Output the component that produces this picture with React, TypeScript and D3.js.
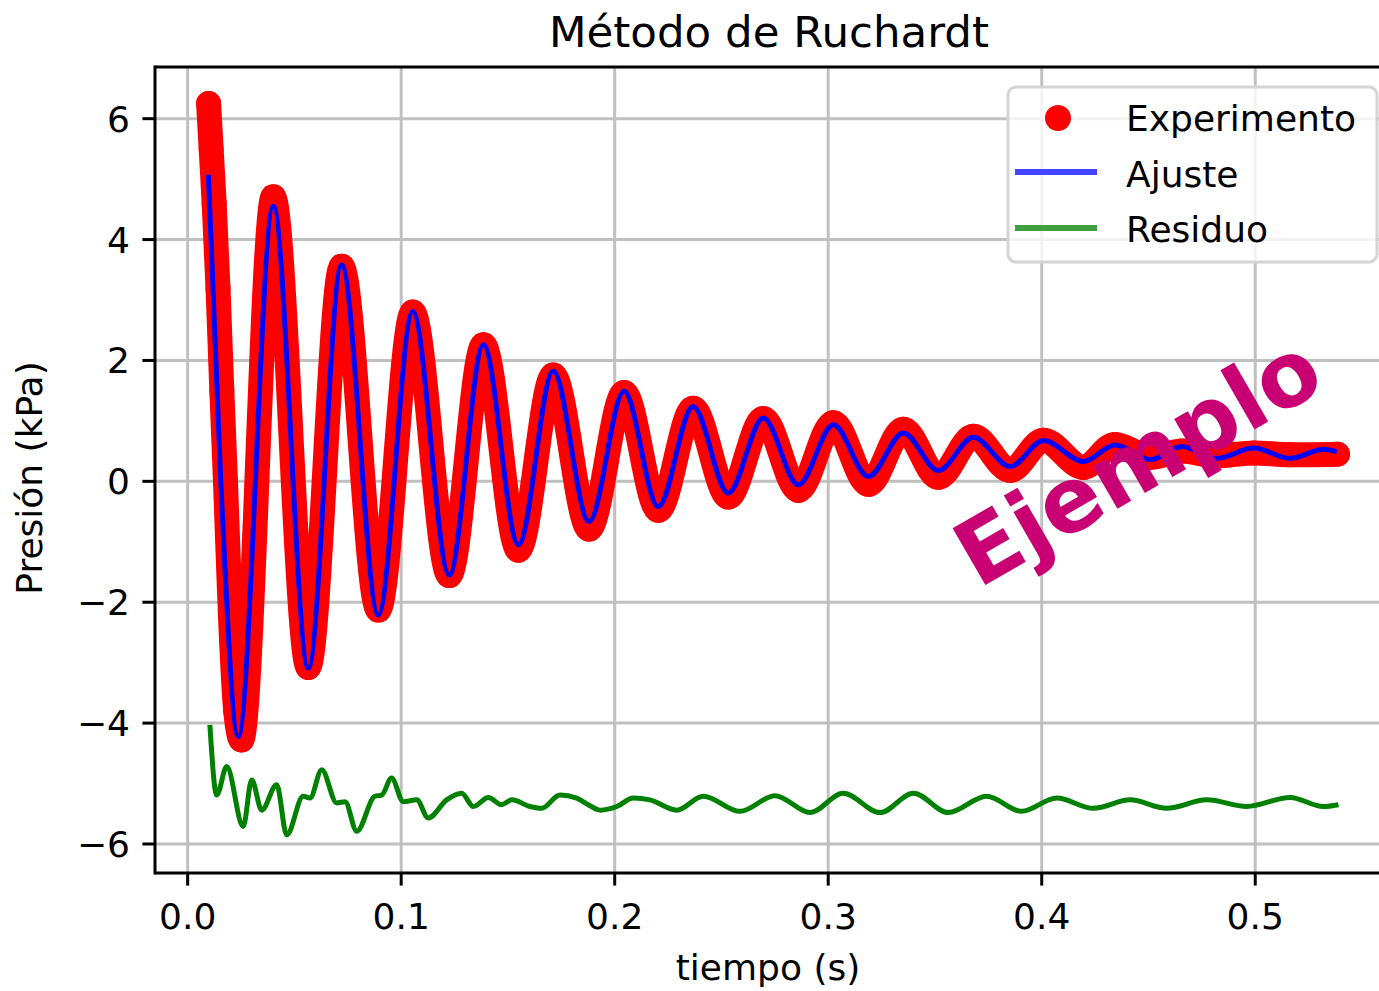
import * as d3 from 'd3';

// tiempo (s) / presión (kPa)
const expT = [0.0098, 0.011, 0.0124, 0.0142, 0.016, 0.0177, 0.02, 0.0225, 0.0252, 0.0401, 0.0565, 0.0721, 0.0893, 0.1054, 0.1225, 0.1385, 0.1549, 0.1712, 0.188, 0.2044, 0.2204, 0.2367, 0.2532, 0.2696, 0.286, 0.3024, 0.3188, 0.3352, 0.3516, 0.368, 0.3852, 0.4008, 0.4195, 0.4343, 0.451, 0.4656, 0.482, 0.4992, 0.5163, 0.5385];
const expP = [6.25, 5.5, 4.6, 3.2, 1.5, 0.0, -2.2, -3.8, -4.28, 4.71, -3.08, 3.56, -2.13, 2.8, -1.56, 2.26, -1.14, 1.76, -0.79, 1.47, -0.48, 1.21, -0.26, 1.04, -0.15, 0.97, -0.05, 0.86, 0.066, 0.745, 0.18, 0.68, 0.23, 0.61, 0.4, 0.5, 0.42, 0.47, 0.44, 0.45];

const fitT = [0.0097, 0.0155, 0.0237, 0.0401, 0.0565, 0.0721, 0.0893, 0.1054, 0.1225, 0.1385, 0.1549, 0.1712, 0.188, 0.2044, 0.2204, 0.2367, 0.2532, 0.2696, 0.286, 0.3024, 0.3188, 0.3352, 0.3516, 0.368, 0.3852, 0.4008, 0.4195, 0.4343, 0.451, 0.4656, 0.482, 0.4992, 0.5163, 0.532, 0.5382];
const fitP = [5.07, 0.0, -4.22, 4.55, -3.09, 3.58, -2.21, 2.81, -1.55, 2.26, -1.05, 1.82, -0.665, 1.49, -0.417, 1.24, -0.195, 1.046, -0.058, 0.935, 0.08, 0.8, 0.18, 0.73, 0.245, 0.675, 0.33, 0.6, 0.36, 0.575, 0.38, 0.55, 0.38, 0.53, 0.49];

const resT = [0.0104, 0.0136, 0.0183, 0.026, 0.03, 0.0347, 0.0417, 0.0464, 0.0541, 0.0573, 0.0628, 0.0698, 0.0737, 0.0792, 0.0877, 0.0909, 0.0955, 0.101, 0.1073, 0.1127, 0.1213, 0.1283, 0.1338, 0.1408, 0.147, 0.1518, 0.1603, 0.1658, 0.1744, 0.1822, 0.1876, 0.1932, 0.201, 0.2087, 0.2165, 0.229, 0.2415, 0.2587, 0.2751, 0.2915, 0.307, 0.3243, 0.3399, 0.3562, 0.3742, 0.3906, 0.407, 0.4242, 0.4414, 0.4585, 0.4773, 0.496, 0.5163, 0.5319, 0.539];
const resP = [-4.03, -5.19, -4.72, -5.71, -4.94, -5.44, -5.02, -5.85, -5.21, -5.24, -4.77, -5.32, -5.3, -5.79, -5.21, -5.19, -4.91, -5.3, -5.27, -5.57, -5.27, -5.16, -5.38, -5.23, -5.35, -5.27, -5.38, -5.41, -5.19, -5.24, -5.35, -5.44, -5.38, -5.24, -5.27, -5.44, -5.21, -5.46, -5.2, -5.48, -5.16, -5.48, -5.16, -5.48, -5.21, -5.46, -5.24, -5.41, -5.27, -5.41, -5.27, -5.38, -5.23, -5.38, -5.35];

const xTicks = [0, 0.1, 0.2, 0.3, 0.4, 0.5];
const yTicks = [-6, -4, -2, 0, 2, 4, 6];
const legendLabels = ['Experimento', 'Ajuste', 'Residuo'];

const font = 'DejaVu Sans, sans-serif';

export default function App() {
  const left = 155, right = 1381, top = 67, bottom = 873;
  const x = d3.scaleLinear().domain([-0.0153, 0.5589]).range([left, right]);
  const y = d3.scaleLinear().domain([-6.48, 6.855]).range([bottom, top]);

  const line = d3.line<[number, number]>()
    .x(d => x(d[0]))
    .y(d => y(d[1]))
    .curve(d3.curveMonotoneX);

  const exp = d3.zip(expT, expP) as [number, number][];
  const fit = d3.zip(fitT, fitP) as [number, number][];
  const res = d3.zip(resT, resP) as [number, number][];

  const fmtY = (v: number) => (v < 0 ? '\u2212' + Math.abs(v) : String(v));
  const tickLen = 12.6;

  return (
    <div style={{ position: 'absolute', left: 0, top: 0 }}>
      <svg width={1379} height={991} style={{ display: 'block', background: '#fff' }} fontFamily={font}>
        <defs>
          <clipPath id="plot">
            <rect x={left} y={top} width={right - left} height={bottom - top} />
          </clipPath>
        </defs>

        {/* grid */}
        <g stroke="#c0c0c0" strokeWidth={3}>
          {xTicks.map(t => <line key={'gx' + t} x1={x(t)} x2={x(t)} y1={top} y2={bottom} />)}
          {yTicks.map(t => <line key={'gy' + t} x1={left} x2={right} y1={y(t)} y2={y(t)} />)}
        </g>

        <g clipPath="url(#plot)">
          <path d={line(exp) || ''} fill="none" stroke="#ff0000" strokeWidth={25} strokeLinecap="round" strokeLinejoin="round" />
          {exp.map((d, i) => <circle key={i} cx={x(d[0])} cy={y(d[1])} r={12.5} fill="#ff0000" />)}
          <path d={line(fit) || ''} fill="none" stroke="#0000ff" strokeWidth={5} strokeLinejoin="round" />
          <path d={line(res) || ''} fill="none" stroke="#008000" strokeWidth={5} strokeLinejoin="round" />
        </g>

        {/* spines */}
        <g stroke="#000" strokeWidth={3} fill="none">
          <line x1={left} x2={left} y1={top - 1.5} y2={bottom + 1.5} />
          <line x1={left} x2={right} y1={top} y2={top} />
          <line x1={left} x2={right} y1={bottom} y2={bottom} />
        </g>

        {/* x axis */}
        <g>
          {xTicks.map(t => (
            <g key={'xt' + t}>
              <line x1={x(t)} x2={x(t)} y1={bottom} y2={bottom + tickLen} stroke="#000" strokeWidth={3} />
              <text x={x(t)} y={929} textAnchor="middle" fontSize={36} fill="#000">{d3.format('.1f')(t)}</text>
            </g>
          ))}
          <text x={768} y={980} textAnchor="middle" fontSize={36} fill="#000">tiempo (s)</text>
        </g>

        {/* y axis */}
        <g>
          {yTicks.map(t => (
            <g key={'yt' + t}>
              <line x1={left - tickLen} x2={left} y1={y(t)} y2={y(t)} stroke="#000" strokeWidth={3} />
              <text x={130} y={y(t)} dy="0.36em" textAnchor="end" fontSize={36} fill="#000">{fmtY(t)}</text>
            </g>
          ))}
          <text transform="translate(42,478) rotate(-90)" textAnchor="middle" fontSize={36} fill="#000">Presión (kPa)</text>
        </g>

        <text x={769} y={47} textAnchor="middle" fontSize={43.5} fill="#000">Método de Ruchardt</text>

        {/* legend */}
        <g>
          <rect x={1008} y={87} width={369} height={175} rx={8} fill="rgba(255,255,255,0.8)" stroke="#d4d4d4" strokeWidth={3} />
          <circle cx={1058} cy={118} r={13} fill="#ff0000" />
          <line x1={1015} x2={1097} y1={172} y2={172} stroke="#4444ff" strokeWidth={6} />
          <line x1={1015} x2={1097} y1={228} y2={228} stroke="#40a040" strokeWidth={6} />
          {legendLabels.map((l, i) => (
            <text key={l} x={1126} y={131 + i * 55.5} fontSize={36} fill="#000">{l}</text>
          ))}
        </g>

        <text transform="translate(1137,460) rotate(-30)" textAnchor="middle" dy="0.36em" fontSize={90} fontWeight="bold" fill="#c80073">Ejemplo</text>
      </svg>
    </div>
  );
}
